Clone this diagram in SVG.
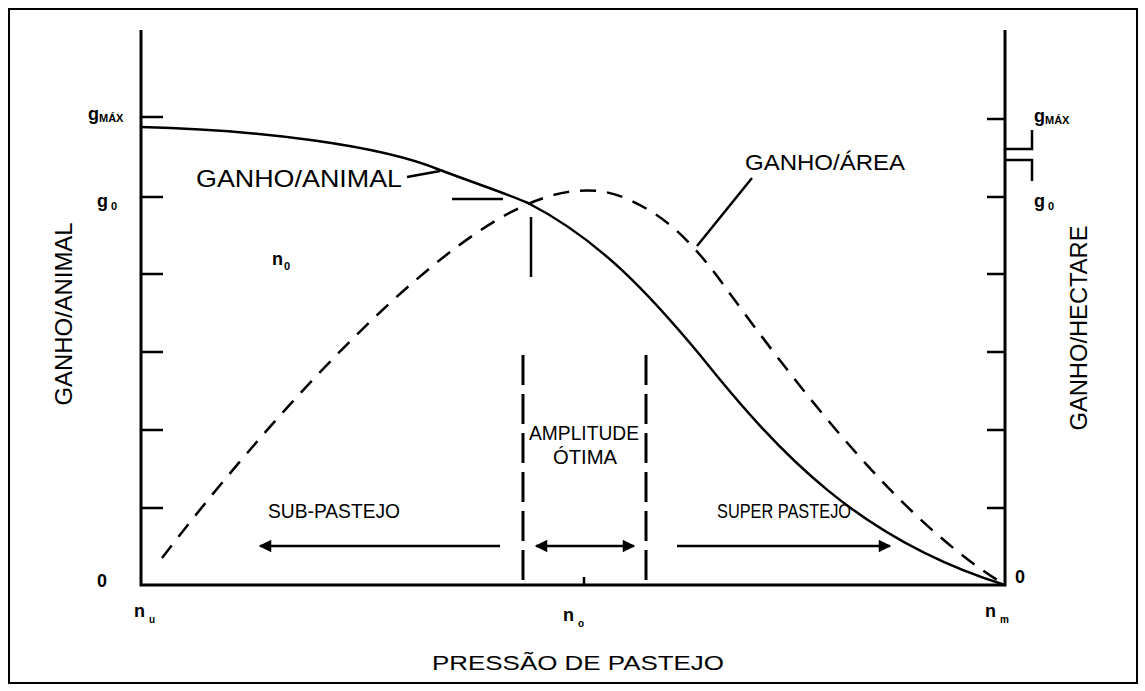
<svg xmlns="http://www.w3.org/2000/svg" width="1145" height="691" viewBox="0 0 1145 691">
<defs>
<style>
.ax{stroke:#000;stroke-width:3;fill:none}
.tk{stroke:#000;stroke-width:2.5;fill:none}
.ln{stroke:#000;stroke-width:2.5;fill:none}
.dash{stroke:#000;stroke-width:2.5;fill:none;stroke-dasharray:16 11}
.vd{stroke:#000;stroke-width:3;fill:none;stroke-dasharray:30 9}
.lab{font-family:"Liberation Sans",Arial,sans-serif;fill:#000}
.sym{font-family:"Liberation Sans",Arial,sans-serif;font-weight:bold;fill:#000}
</style>
<marker id="ah" viewBox="0 0 10 10" refX="9" refY="5" markerWidth="7" markerHeight="5" orient="auto-start-reverse" markerUnits="strokeWidth">
<path d="M0,0 L10,5 L0,10 Z" fill="#000"/>
</marker>
</defs>
<rect x="0" y="0" width="1145" height="691" fill="#fff"/>
<rect x="9" y="9" width="1128" height="674" fill="none" stroke="#000" stroke-width="2"/>

<g id="frame">
<path class="ax" d="M141,30 V585 H1005 V30"/>
<g class="tk">
<path d="M141,117 H163 M141,197 H163 M141,274 H163 M141,352 H163 M141,430 H163 M141,508 H163"/>
<path d="M1005,119 H987 M1005,197 H987 M1005,274 H987 M1005,352 H987 M1005,430 H987 M1005,508 H987"/>
<path d="M1005,149 H1032 V130 M1005,160 H1032 V181"/>
<path d="M584,577 V585"/>
</g>
</g>

<g id="labels-axes">
<text class="sym" x="88" y="120" font-size="18">g<tspan font-size="11" dy="2">MÁX</tspan></text>
<text class="sym" x="97" y="207" font-size="18">g<tspan font-size="11" dx="3" dy="3">0</tspan></text>
<text class="sym" x="97" y="587" font-size="18">0</text>
<text class="sym" x="1034" y="122" font-size="18">g<tspan font-size="11" dy="2">MÁX</tspan></text>
<text class="sym" x="1034" y="207" font-size="18">g<tspan font-size="11" dx="3" dy="3">0</tspan></text>
<text class="sym" x="1015" y="583" font-size="18">0</text>
<text class="sym" x="134" y="617" font-size="18">n<tspan font-size="10" dx="4" dy="6">u</tspan></text>
<text class="sym" x="563" y="621" font-size="18">n<tspan font-size="10" dx="4" dy="6">o</tspan></text>
<text class="sym" x="985" y="617" font-size="18">n<tspan font-size="10" dx="4" dy="6">m</tspan></text>
<text class="sym" x="272" y="265" font-size="18">n<tspan font-size="11" dx="1" dy="5">0</tspan></text>
<text class="lab" x="578" y="670" font-size="21" text-anchor="middle" textLength="292" lengthAdjust="spacingAndGlyphs">PRESSÃO DE PASTEJO</text>
<text class="lab" font-size="24" text-anchor="middle" transform="translate(72,314) rotate(-90)" textLength="183" lengthAdjust="spacingAndGlyphs">GANHO/ANIMAL</text>
<text class="lab" font-size="24" text-anchor="middle" transform="translate(1087,328) rotate(-90)" textLength="205" lengthAdjust="spacingAndGlyphs">GANHO/HECTARE</text>
</g>

<g id="curve-animal">
<path class="ln" d="M141,127 C260,130 380,145 440,170 C480,185 505,193 528,203 C600,240 650,295 700,355 C780,455 860,540 1005,585"/>
<text class="lab" x="196" y="187" font-size="24" textLength="206" lengthAdjust="spacingAndGlyphs">GANHO/ANIMAL</text>
<path class="ln" d="M407,177 L440,171"/>
</g>

<g id="curve-area">
<path class="dash" d="M162,558 C260,430 420,250 528,204 C560,190 595,185 625,198 C665,215 690,240 720,280 C800,390 900,520 1002,583"/>
<text class="lab" x="745" y="170" font-size="22" textLength="160" lengthAdjust="spacingAndGlyphs">GANHO/ÁREA</text>
<path class="ln" d="M752,178 L697,246"/>
</g>

<g id="optimum-marks">
<path class="ln" d="M452,199 H503 M531,217 V277"/>
</g>

<g id="amplitude">
<path class="vd" d="M523,355 V583"/>
<path class="vd" d="M646,355 V583"/>
<text class="lab" x="584" y="440" font-size="21" text-anchor="middle" textLength="110" lengthAdjust="spacingAndGlyphs">AMPLITUDE</text>
<text class="lab" x="585" y="464" font-size="21" text-anchor="middle" textLength="64" lengthAdjust="spacingAndGlyphs">ÓTIMA</text>
</g>

<g id="connectors">
<path class="ln" d="M536,546 H634" marker-start="url(#ah)" marker-end="url(#ah)"/>
<path class="ln" d="M500,546 H260" marker-end="url(#ah)"/>
<path class="ln" d="M677,546 H890" marker-end="url(#ah)"/>
</g>

<g id="regions">
<text class="lab" x="268" y="518" font-size="21" textLength="132" lengthAdjust="spacingAndGlyphs">SUB-PASTEJO</text>
<text class="lab" x="717" y="518" font-size="21" textLength="134" lengthAdjust="spacingAndGlyphs">SUPER PASTEJO</text>
</g>
</svg>
